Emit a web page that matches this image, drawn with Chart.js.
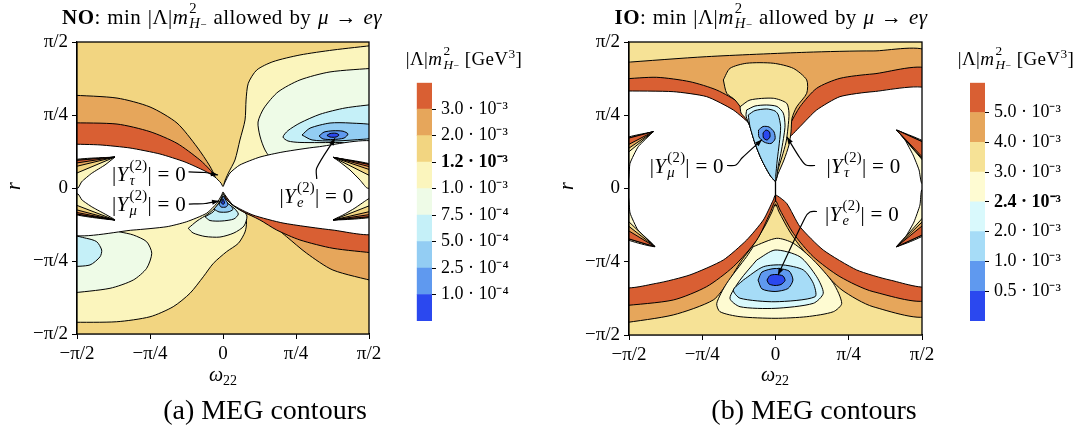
<!DOCTYPE html>
<html lang="en">
<head>
<meta charset="UTF-8">
<title>MEG contours</title>
<script src="https://cdn.jsdelivr.net/npm/chart.js"></script>
<style>
  body { margin: 0; background: #fff; }
  #page { position: relative; width: 1083px; height: 430px; overflow: hidden;
          font-family: "Liberation Serif", "DejaVu Serif", serif; color: #000; }
  canvas { position: absolute; top: 0; }
  .txt { position: absolute; white-space: nowrap; line-height: 1; }
  .ss { display: inline-block; vertical-align: -0.28em; font-size: 0.7em; line-height: 1.02; margin-left: 1px; }
  .ss > span { display: block; }
  .tiny { font-size: 0.75em; }
  .lo { font-size: 0.7em; vertical-align: -0.3em; }
  .ttl { font-size: 21px; letter-spacing: 0.4px; word-spacing: 1px; }
  .cbt { font-size: 19px; letter-spacing: 0.4px; }
  .cap { font-size: 28px; }
</style>
</head>
<body>
<div id="page">
  <canvas id="noPlot" width="400" height="430" style="left:0px"></canvas>
  <canvas id="noBar" width="130" height="430" style="left:405px"></canvas>
  <canvas id="ioPlot" width="400" height="430" style="left:540px"></canvas>
  <canvas id="ioBar" width="128" height="430" style="left:955px"></canvas>

  <div class="txt ttl" style="left:222px;top:16px;transform:translate(-50%,-50%)"><b>NO</b>: min |Λ|<i>m</i><span class="ss"><span>2</span><span><i>H</i><span class="tiny">−</span></span></span> allowed by <i>μ</i> → <i>eγ</i></div>
  <div class="txt ttl" style="left:771px;top:16px;transform:translate(-50%,-50%)"><b>IO</b>: min |Λ|<i>m</i><span class="ss"><span>2</span><span><i>H</i><span class="tiny">−</span></span></span> allowed by <i>μ</i> → <i>eγ</i></div>

  <div class="txt cbt" style="left:464px;top:58px;transform:translate(-50%,-50%)">|Λ|<i>m</i><span class="ss"><span>2</span><span><i>H</i><span class="tiny">−</span></span></span> [GeV<sup style="font-size:0.7em">3</sup>]</div>
  <div class="txt cbt" style="left:1016px;top:58px;transform:translate(-50%,-50%)">|Λ|<i>m</i><span class="ss"><span>2</span><span><i>H</i><span class="tiny">−</span></span></span> [GeV<sup style="font-size:0.7em">3</sup>]</div>

  <div class="txt" style="left:13px;top:186px;font-size:20px;transform:translate(-50%,-50%) rotate(-90deg)"><i>r</i></div>
  <div class="txt" style="left:566px;top:186px;font-size:20px;transform:translate(-50%,-50%) rotate(-90deg)"><i>r</i></div>
  <div class="txt" style="left:223px;top:376px;font-size:20px;transform:translate(-50%,-50%)"><i>ω</i><span class="lo">22</span></div>
  <div class="txt" style="left:775px;top:376px;font-size:20px;transform:translate(-50%,-50%)"><i>ω</i><span class="lo">22</span></div>

  <div class="txt cap" style="left:265px;top:410px;transform:translate(-50%,-50%)">(a) MEG contours</div>
  <div class="txt cap" style="left:814px;top:410px;transform:translate(-50%,-50%)">(b) MEG contours</div>
</div>

<script>
  // all contour points in units of pi/2 : [omega22, r]
  const HALF = Math.PI / 2;

  const tickSteps = [-2, -1, 0, 1, 2];          // multiples of pi/4
  const tickLabels = ['−π/2', '−π/4', '0', 'π/4', 'π/2'];

  // ---------- NO (left panel) ----------
  const noOrangeUL = [[-1.05,0.637],[-0.726,0.616],[-0.5,0.555],[-0.315,0.445],[-0.178,0.281],[-0.09,0.15],[-0.055,0.075],[-0.05,0.0],[-1.05,0.0]];
  const noRedUL = [[-1.05,0.447],[-0.726,0.438],[-0.5,0.386],[-0.315,0.306],[-0.158,0.192],[-0.085,0.12],[-0.055,0.075],[-0.05,0.0],[-1.05,0.0]];
  const noLightYellowUR = [[1.05,0.979],[0.753,0.945],[0.527,0.911],[0.342,0.865],[0.231,0.808],[0.173,0.717],[0.158,0.603],[0.151,0.466],[0.116,0.329],[0.082,0.192],[0.036,0.101],[0.007,0.027],[0.03,0.0],[1.05,0.0]];
  const noPaleGreenUR = [[1.05,0.822],[0.733,0.795],[0.527,0.740],[0.377,0.658],[0.281,0.548],[0.240,0.452],[0.253,0.356],[0.288,0.260],[0.336,0.205],[1.05,0.158]];
  const noCyanUR = [[1.05,0.575],[0.836,0.548],[0.664,0.505],[0.527,0.445],[0.445,0.393],[0.411,0.349],[0.445,0.322],[0.527,0.312],[0.801,0.312],[1.05,0.318]];
  const noLightBlueUR = [[0.541,0.363],[0.596,0.410],[0.733,0.445],[0.870,0.445],[1.05,0.425],[1.05,0.350],[0.904,0.330],[0.753,0.322],[0.610,0.329]];
  const noBlueUR = [[0.658,0.356],[0.692,0.383],[0.753,0.392],[0.822,0.389],[0.856,0.370],[0.829,0.342],[0.753,0.332],[0.685,0.336]];
  const noDarkBlueUR = [[0.712,0.360],[0.733,0.373],[0.774,0.375],[0.795,0.363],[0.774,0.349],[0.733,0.349]];
  const noLightYellowLL = [[-1.05,-0.920],[-0.728,-0.916],[-0.5,-0.882],[-0.341,-0.813],[-0.226,-0.721],[-0.135,-0.608],[-0.066,-0.516],[0.025,-0.436],[0.105,-0.379],[0.151,-0.301],[0.161,-0.233],[0.144,-0.178],[0.089,-0.123],[0.034,-0.075],[0.010,-0.051],[-0.02,-0.014],[-1.05,-0.014]];
  const noPaleGreenLL = [[-1.05,-0.721],[-0.774,-0.687],[-0.614,-0.630],[-0.523,-0.550],[-0.488,-0.447],[-0.523,-0.368],[-0.614,-0.322],[-0.705,-0.301],[-0.842,-0.274],[-1.05,-0.274]];
  const noCyanLL = [[-1.05,-0.539],[-0.911,-0.527],[-0.842,-0.471],[-0.831,-0.425],[-0.865,-0.368],[-0.934,-0.345],[-1.05,-0.332]];
  const noPaleGreenC = [[-0.238,-0.276],[-0.178,-0.226],[-0.103,-0.178],[-0.048,-0.130],[-0.014,-0.075],[0.0,-0.041],[0.021,-0.075],[0.068,-0.116],[0.130,-0.151],[0.164,-0.192],[0.144,-0.260],[0.075,-0.308],[-0.021,-0.336],[-0.123,-0.332],[-0.205,-0.308]];
  const noCyanC = [[-0.123,-0.197],[-0.068,-0.164],[-0.027,-0.110],[0.0,-0.055],[0.027,-0.103],[0.075,-0.137],[0.105,-0.178],[0.075,-0.212],[-0.007,-0.226],[-0.089,-0.223]];
  const noLightBlueC = [[-0.062,-0.144],[-0.027,-0.103],[0.0,-0.062],[0.021,-0.096],[0.055,-0.123],[0.068,-0.147],[0.034,-0.164],[-0.027,-0.164]];
  const noBlueC = [[-0.027,-0.110],[-0.007,-0.075],[0.0,-0.055],[0.014,-0.075],[0.034,-0.110],[0.021,-0.130],[-0.014,-0.130]];
  const noDarkBlueC = [[-0.010,-0.103],[0.0,-0.075],[0.010,-0.103],[0.0,-0.113]];
  const noOrangeLR = [[1.05,-0.642],[0.753,-0.562],[0.573,-0.447],[0.436,-0.334],[0.299,-0.225],[0.162,-0.175],[0.062,-0.115],[0.017,-0.06],[0.034,-0.014],[1.05,-0.014]];
  const noRedLR = [[1.05,-0.447],[0.753,-0.413],[0.527,-0.356],[0.368,-0.288],[0.253,-0.219],[0.116,-0.150],[0.034,-0.088],[0.017,-0.058],[0.034,-0.014],[1.05,-0.014]];
  const noWhite = [[-1.05,0.301],[-0.842,0.295],[-0.637,0.274],[-0.432,0.233],[-0.260,0.178],[-0.123,0.116],[-0.055,0.075],[-0.014,0.034],[0.0,0.010],[0.014,0.041],[0.048,0.103],[0.116,0.158],[0.253,0.212],[0.411,0.247],[0.644,0.281],[1.05,0.308],
                   [1.05,-0.306],[0.753,-0.288],[0.411,-0.240],[0.205,-0.185],[0.068,-0.116],[0.014,-0.048],[0.0,-0.027],[-0.009,-0.048],[-0.043,-0.105],[-0.112,-0.173],[-0.249,-0.231],[-0.384,-0.265],[-0.616,-0.288],[-1.05,-0.310]];
  const noWedgeLU = [[-0.740,0.212],[-0.808,0.158],[-0.899,0.101],[-0.968,0.043],[-0.993,0.0],[-1.05,0.0],[-1.05,0.185]];
  const noWedgeLUYellow = [[-0.740,0.212],[-1.05,0.082],[-1.05,0.185]];
  const noWedgeLUOrange = [[-0.740,0.212],[-1.05,0.137],[-1.05,0.185]];
  const noWedgeLURed = [[-0.740,0.212],[-1.05,0.164],[-1.05,0.185]];
  const noWedgeLL = [[-1.05,-0.041],[-0.993,-0.041],[-0.966,-0.082],[-0.897,-0.130],[-0.822,-0.171],[-0.740,-0.219],[-1.05,-0.171]];
  const noWedgeLLYellow = [[-0.740,-0.219],[-1.05,-0.100],[-1.05,-0.171]];
  const noWedgeLLOrange = [[-0.740,-0.219],[-1.05,-0.137],[-1.05,-0.171]];
  const noWedgeLLRed = [[-0.740,-0.219],[-1.05,-0.158],[-1.05,-0.171]];
  const noWedgeRU = [[0.755,0.210],[0.801,0.178],[0.870,0.123],[0.938,0.055],[0.986,0.0],[1.05,0.0],[1.05,0.151]];
  const noWedgeRUYellow = [[0.755,0.210],[1.05,0.062],[1.05,0.151]];
  const noWedgeRUOrange = [[0.755,0.210],[1.05,0.110],[1.05,0.151]];
  const noWedgeRURed = [[0.755,0.210],[1.05,0.134],[1.05,0.151]];
  const noWedgeRL = [[1.05,-0.041],[0.984,-0.082],[0.904,-0.137],[0.822,-0.185],[0.755,-0.219],[1.05,-0.192]];
  const noWedgeRLYellow = [[0.755,-0.219],[1.05,-0.103],[1.05,-0.192]];
  const noWedgeRLOrange = [[0.755,-0.219],[1.05,-0.151],[1.05,-0.192]];
  const noWedgeRLRed = [[0.755,-0.219],[1.05,-0.175],[1.05,-0.192]];
  const noPointerTau = [[-0.236,0.110],[-0.123,0.106],[-0.034,0.089]];
  const noPointerMu = [[-0.234,-0.110],[-0.123,-0.106],[-0.027,-0.089]];
  const noPointerE = [[0.642,0.062],[0.642,0.137],[0.767,0.340]];

  const noLevels = ['1.0 · 10⁻⁴', '2.5 · 10⁻⁴', '5.0 · 10⁻⁴', '7.5 · 10⁻⁴', '1.0 · 10⁻³', '1.2 · 10⁻³', '2.0 · 10⁻³', '3.0 · 10⁻³'];
  const noBold = '1.2 · 10⁻³';

  // ---------- IO (right panel) ----------
  const ioOrangeTop = [[-1.05,0.859],[-0.470,0.900],[0.213,0.930],[0.666,0.939],[1.05,0.923],[1.05,0.0],[-1.05,0.0]];
  const ioRedTop = [[-1.05,0.747],[-0.811,0.759],[-0.584,0.729],[-0.401,0.672],[-0.242,0.582],[-0.128,0.479],[-0.038,0.377],[0.010,0.311],[0.044,0.358],[0.099,0.440],[0.167,0.558],[0.281,0.684],[0.440,0.752],[0.666,0.782],[1.05,0.804],[1.05,0.0],[-1.05,0.0]];
  const ioOrangeBottom = [[-1.05,-0.920],[-0.698,-0.863],[-0.425,-0.761],[-0.324,-0.638],[-0.229,-0.488],[-0.147,-0.379],[-0.072,-0.256],[-0.024,-0.160],[0.0,-0.106],[0.024,-0.160],[0.099,-0.297],[0.188,-0.420],[0.304,-0.543],[0.454,-0.693],[0.666,-0.807],[1.05,-0.857],[1.05,0.0],[-1.05,0.0]];
  const ioRedBottom = [[-1.05,-0.802],[-0.698,-0.761],[-0.470,-0.670],[-0.288,-0.534],[-0.128,-0.352],[-0.038,-0.169],[0.0,-0.085],[0.031,-0.147],[0.122,-0.306],[0.258,-0.466],[0.440,-0.602],[0.666,-0.704],[1.05,-0.749],[1.05,0.0],[-1.05,0.0]];
  const ioWhite = [[-1.05,0.666],[-0.698,0.661],[-0.470,0.627],[-0.288,0.536],[-0.152,0.422],[-0.038,0.331],[0.010,0.297],[0.076,0.331],[0.167,0.422],[0.281,0.536],[0.440,0.627],[0.666,0.661],[1.05,0.668],
                   [1.05,-0.659],[0.782,-0.625],[0.554,-0.556],[0.326,-0.420],[0.167,-0.261],[0.076,-0.101],[0.0,-0.044],[-0.015,-0.078],[-0.083,-0.215],[-0.197,-0.352],[-0.356,-0.488],[-0.584,-0.590],[-0.811,-0.647],[-1.05,-0.663]];
  const ioWedgeLU = [[-0.834,0.388],[-0.937,0.285],[-0.993,0.172],[-1.005,0.058],[-1.05,0.051],[-1.05,0.331]];
  const ioWedgeLUYellow = [[-0.834,0.388],[-1.05,0.21],[-1.05,0.331]];
  const ioWedgeLUOrange = [[-0.834,0.388],[-1.05,0.242],[-1.05,0.331]];
  const ioWedgeLURed = [[-0.834,0.388],[-1.05,0.276],[-1.05,0.331]];
  const ioWedgeLL = [[-1.05,-0.056],[-1.005,-0.056],[-0.993,-0.167],[-0.939,-0.283],[-0.823,-0.397],[-1.05,-0.329]];
  const ioWedgeLLYellow = [[-0.823,-0.397],[-1.05,-0.18],[-1.05,-0.329]];
  const ioWedgeLLOrange = [[-0.823,-0.397],[-1.05,-0.22],[-1.05,-0.329]];
  const ioWedgeLLRed = [[-0.823,-0.397],[-1.05,-0.26],[-1.05,-0.329]];
  const ioWedgeRU = [[0.827,0.399],[0.884,0.331],[0.939,0.229],[0.980,0.126],[0.998,0.035],[1.05,0.031],[1.05,0.297]];
  const ioWedgeRUYellow = [[0.827,0.399],[1.05,0.14],[1.05,0.297]];
  const ioWedgeRUOrange = [[0.827,0.399],[1.05,0.15],[1.05,0.297]];
  const ioWedgeRURed = [[0.827,0.399],[1.05,0.165],[1.05,0.297]];
  const ioWedgeRL = [[1.05,-0.010],[0.998,-0.010],[0.986,-0.113],[0.945,-0.229],[0.891,-0.324],[0.827,-0.397],[1.05,-0.295]];
  const ioWedgeRLYellow = [[0.827,-0.397],[1.05,-0.15],[1.05,-0.295]];
  const ioWedgeRLOrange = [[0.827,-0.397],[1.05,-0.18],[1.05,-0.295]];
  const ioWedgeRLRed = [[0.827,-0.397],[1.05,-0.215],[1.05,-0.295]];
  const ioDropYellow = [[-0.356,0.741],[-0.311,0.820],[-0.197,0.855],[-0.015,0.855],[0.122,0.820],[0.213,0.741],[0.213,0.650],[0.145,0.558],[0.113,0.481],[0.106,0.386],[0.092,0.297],[0.058,0.195],[0.017,0.099],[-0.001,0.051],[-0.038,0.092],[-0.094,0.195],[-0.140,0.309],[-0.174,0.422],[-0.208,0.509],[-0.276,0.604],[-0.333,0.650]];
  const ioDropLightYellow = [[-0.242,0.558],[-0.174,0.604],[-0.015,0.616],[0.076,0.582],[0.092,0.515],[0.085,0.413],[0.072,0.317],[0.044,0.215],[0.014,0.119],[0.0,0.051],[-0.038,0.092],[-0.094,0.195],[-0.140,0.309],[-0.174,0.422],[-0.205,0.480],[-0.235,0.515]];
  const ioDropCyan = [[-0.197,0.536],[-0.140,0.563],[-0.060,0.570],[0.010,0.560],[0.053,0.515],[0.065,0.433],[0.058,0.365],[0.041,0.263],[0.020,0.160],[0.0,0.051],[-0.038,0.092],[-0.094,0.195],[-0.140,0.309],[-0.174,0.422],[-0.201,0.495]];
  const ioDropLightBlue = [[-0.186,0.502],[-0.140,0.532],[-0.060,0.543],[-0.003,0.529],[0.019,0.502],[0.035,0.422],[0.026,0.309],[0.012,0.195],[0.001,0.081],[-0.003,0.051],[-0.038,0.092],[-0.094,0.195],[-0.140,0.309],[-0.174,0.422]];
  const ioDropBlue = [[-0.116,0.399],[-0.085,0.423],[-0.044,0.420],[-0.010,0.386],[-0.003,0.338],[-0.031,0.307],[-0.078,0.317],[-0.113,0.352]];
  const ioDropDarkBlue = [[-0.085,0.379],[-0.065,0.399],[-0.041,0.386],[-0.038,0.352],[-0.058,0.331],[-0.082,0.345]];
  const ioTriLightYellow = [[-0.152,-0.397],[0.008,-0.340],[0.122,-0.374],[0.258,-0.488],[0.395,-0.647],[0.452,-0.784],[0.395,-0.841],[0.213,-0.875],[-0.003,-0.886],[-0.242,-0.875],[-0.379,-0.841],[-0.401,-0.784],[-0.333,-0.647],[-0.197,-0.465]];
  const ioTriCyan = [[-0.128,-0.488],[-0.003,-0.420],[0.167,-0.466],[0.281,-0.602],[0.326,-0.715],[0.258,-0.784],[-0.003,-0.818],[-0.242,-0.807],[-0.311,-0.749],[-0.242,-0.625]];
  const ioTriLightBlue = [[-0.220,-0.625],[-0.083,-0.534],[0.053,-0.522],[0.190,-0.556],[0.258,-0.647],[0.270,-0.739],[-0.003,-0.773],[-0.242,-0.749],[-0.288,-0.693]];
  const ioTriBlue = [[-0.119,-0.625],[-0.092,-0.570],[-0.003,-0.546],[0.092,-0.563],[0.119,-0.625],[0.085,-0.683],[-0.003,-0.703],[-0.092,-0.686]];
  const ioTriDarkBlue = [[-0.058,-0.625],[-0.038,-0.594],[0.003,-0.587],[0.051,-0.597],[0.065,-0.628],[0.038,-0.655],[-0.003,-0.662],[-0.044,-0.652]];
  const ioCenterLine = [[0.0,0.051],[0.0,-0.09]];
  const ioPointerMu = [[-0.331,0.157],[-0.270,0.160],[-0.229,0.208],[-0.092,0.334]];
  const ioPointerTau = [[0.270,0.157],[0.208,0.160],[0.167,0.208],[0.078,0.352]];
  const ioPointerE = [[0.283,-0.157],[0.235,-0.160],[0.201,-0.201],[0.017,-0.590]];

  const ioLevels = ['0.5 · 10⁻³', '1.0 · 10⁻³', '2.0 · 10⁻³', '2.4 · 10⁻³', '3.0 · 10⁻³', '4.0 · 10⁻³', '5.0 · 10⁻³'];
  const ioBold = '2.4 · 10⁻³';

  // palette
  const RED = '#d95f33', ORANGE = '#e6a65b', BLUE = '#5f99ef', DARK = '#2b48ef';
  const A = { yellow: '#f2d581', ly: '#fbf5bd', green: '#eefbe7', cyan: '#c5f0f8', lb: '#93cdf3' };
  const B = { yellow: '#f6e296', ly: '#fefbd2', cyan: '#d9f9fc', lb: '#a6dcf7' };
  const FONT = 'Liberation Serif';

  const toXY = pts => pts.map(([u, v]) => ({ x: u * HALF, y: v * HALF }));
  const BASE = [[-1.05,-1.05],[1.05,-1.05],[1.05,1.05],[-1.05,1.05]];

  function shape(pts, color, opts) {
    return Object.assign({
      data: toXY(pts.concat([pts[0]])),
      showLine: true, fill: 'shape',
      backgroundColor: color, borderColor: '#000', borderWidth: 1,
      pointRadius: 0, pointHitRadius: 0, tension: 0.25, borderJoinStyle: 'round'
    }, opts || {});
  }
  function pointer(pts) {
    return { data: toXY(pts), showLine: true, fill: false, borderColor: '#000', borderWidth: 1.2,
             pointRadius: 0, pointHitRadius: 0, tension: 0.3, arrow: true };
  }
  function wedge(outline, y, o, r, c) {
    return [shape(outline, c.ly, { tension: 0.15 }), shape(y, c.yellow, { tension: 0 }),
            shape(o, ORANGE, { tension: 0 }), shape(r, RED, { tension: 0 })];
  }

  const noLayers = [
    shape(BASE, A.yellow, { borderWidth: 0, tension: 0 }),
    shape(noOrangeUL, ORANGE), shape(noRedUL, RED),
    shape(noLightYellowUR, A.ly), shape(noPaleGreenUR, A.green), shape(noCyanUR, A.cyan),
    shape(noLightBlueUR, A.lb), shape(noBlueUR, BLUE), shape(noDarkBlueUR, DARK),
    shape(noLightYellowLL, A.ly), shape(noPaleGreenLL, A.green), shape(noCyanLL, A.cyan),
    shape(noPaleGreenC, A.green), shape(noCyanC, A.cyan), shape(noLightBlueC, A.lb),
    shape(noBlueC, BLUE), shape(noDarkBlueC, DARK),
    shape(noOrangeLR, ORANGE), shape(noRedLR, RED),
    shape(noWhite, '#ffffff', { tension: 0.2 }),
    ...wedge(noWedgeLU, noWedgeLUYellow, noWedgeLUOrange, noWedgeLURed, A),
    ...wedge(noWedgeLL, noWedgeLLYellow, noWedgeLLOrange, noWedgeLLRed, A),
    ...wedge(noWedgeRU, noWedgeRUYellow, noWedgeRUOrange, noWedgeRURed, A),
    ...wedge(noWedgeRL, noWedgeRLYellow, noWedgeRLOrange, noWedgeRLRed, A),
    pointer(noPointerTau), pointer(noPointerMu), pointer(noPointerE)
  ];

  const ioLayers = [
    shape(BASE, B.yellow, { borderWidth: 0, tension: 0 }),
    shape(ioOrangeTop, ORANGE), shape(ioRedTop, RED),
    shape(ioOrangeBottom, ORANGE), shape(ioRedBottom, RED),
    shape(ioWhite, '#ffffff', { tension: 0.2 }),
    ...wedge(ioWedgeLU, ioWedgeLUYellow, ioWedgeLUOrange, ioWedgeLURed, B),
    ...wedge(ioWedgeLL, ioWedgeLLYellow, ioWedgeLLOrange, ioWedgeLLRed, B),
    ...wedge(ioWedgeRU, ioWedgeRUYellow, ioWedgeRUOrange, ioWedgeRURed, B),
    ...wedge(ioWedgeRL, ioWedgeRLYellow, ioWedgeRLOrange, ioWedgeRLRed, B),
    shape(ioDropYellow, B.yellow), shape(ioDropLightYellow, B.ly), shape(ioDropCyan, B.cyan),
    shape(ioDropLightBlue, B.lb), shape(ioDropBlue, BLUE), shape(ioDropDarkBlue, DARK),
    shape(ioTriLightYellow, B.ly), shape(ioTriCyan, B.cyan), shape(ioTriLightBlue, B.lb),
    shape(ioTriBlue, BLUE), shape(ioTriDarkBlue, DARK),
    { data: toXY(ioCenterLine), showLine: true, fill: false, borderColor: '#000', borderWidth: 1.3, pointRadius: 0 },
    pointer(ioPointerMu), pointer(ioPointerTau), pointer(ioPointerE)
  ];

  // later layers are painted on top
  [noLayers, ioLayers].forEach(list => list.forEach((d, i) => { d.order = -i; }));

  const frame = {
    id: 'frame',
    afterDatasetsDraw(chart) {
      const { ctx, chartArea: a } = chart;
      ctx.save();
      ctx.strokeStyle = '#000';
      ctx.lineWidth = 1.3;
      ctx.strokeRect(a.left, a.top, a.right - a.left, a.bottom - a.top);
      ctx.restore();
    }
  };

  const arrowHeads = {
    id: 'arrowHeads',
    afterDatasetsDraw(chart) {
      const ctx = chart.ctx;
      chart.data.datasets.forEach((ds, i) => {
        if (!ds.arrow) return;
        const pts = chart.getDatasetMeta(i).data;
        const p = pts[pts.length - 2], q = pts[pts.length - 1];
        const ang = Math.atan2(q.y - p.y, q.x - p.x);
        ctx.save();
        ctx.translate(q.x, q.y);
        ctx.rotate(ang);
        ctx.fillStyle = '#000';
        ctx.beginPath();
        ctx.moveTo(0, 0);
        ctx.lineTo(-7, -2.6);
        ctx.lineTo(-7, 2.6);
        ctx.closePath();
        ctx.fill();
        ctx.restore();
      });
    }
  };

  function contour(id, layers, pad, yW, xH) {
    const axis = (fit) => ({
      type: 'linear', min: -HALF, max: HALF,
      afterFit: fit,
      afterBuildTicks: s => { s.ticks = tickSteps.map(k => ({ value: k * Math.PI / 4 })); },
      ticks: { callback: (v, i) => tickLabels[i], color: '#000', padding: 4, maxRotation: 0, autoSkip: false,
               font: { family: FONT, size: 19 } },
      grid: { drawOnChartArea: false, tickLength: 5, color: '#000', lineWidth: 1 },
      border: { color: '#000', width: 1.2 }
    });
    return new Chart(document.getElementById(id), {
      type: 'scatter',
      data: { datasets: layers },
      options: {
        responsive: false, animation: false, events: [],
        layout: { padding: pad },
        plugins: { legend: { display: false }, tooltip: { enabled: false } },
        scales: {
          x: axis(s => { s.height = xH; }),
          y: axis(s => { s.width = yW; })
        }
      },
      plugins: [frame, arrowHeads]
    });
  }

  function colorbar(id, colors, labels, bold, pad, yW) {
    return new Chart(document.getElementById(id), {
      type: 'bar',
      data: {
        labels: [''],
        datasets: colors.map(c => ({ data: [1], backgroundColor: c, borderWidth: 0, barPercentage: 1, categoryPercentage: 1 }))
      },
      options: {
        responsive: false, animation: false, events: [],
        layout: { padding: pad },
        plugins: { legend: { display: false }, tooltip: { enabled: false } },
        scales: {
          x: { display: false, stacked: true },
          y: {
            stacked: true, position: 'right', min: 0, max: colors.length,
            afterFit: s => { s.width = yW; },
            afterBuildTicks: s => { s.ticks = labels.map((_, i) => ({ value: i + 1 })); },
            ticks: {
              callback: (v, i) => labels[i], color: '#000', padding: 5,
              font: c => ({ family: FONT, size: 18, weight: labels[c.index] === bold ? 'bold' : 'normal' })
            },
            grid: { drawOnChartArea: false, tickLength: 4, color: '#000' },
            border: { display: false }
          }
        }
      }
    });
  }

  const noChart = contour('noPlot', noLayers, { left: 0, top: 42, right: 31, bottom: 0 }, 77, 96);
  const ioChart = contour('ioPlot', ioLayers, { left: 0, top: 42, right: 18, bottom: 0 }, 89, 95);

  colorbar('noBar', [DARK, BLUE, A.lb, A.cyan, A.green, A.ly, A.yellow, ORANGE, RED], noLevels, noBold,
           { left: 11.7, top: 82.7, right: 0, bottom: 109 }, 103);
  colorbar('ioBar', [DARK, BLUE, B.lb, B.cyan, B.ly, B.yellow, ORANGE, RED], ioLevels, ioBold,
           { left: 15, top: 82.7, right: 0, bottom: 109 }, 98);

  // annotation labels, anchored in data units (pi/2)
  const yZero = s => `|<i>Y</i><span class="ss"><span>(2)</span><span><i>${s}</i></span></span>| = 0`;
  const noNotes = [
    { html: yZero('τ'), at: [-0.253, 0.103], align: 'right' },
    { html: yZero('μ'), at: [-0.253, -0.103], align: 'right' },
    { html: yZero('e'), at: [0.641, -0.048], align: 'center' }
  ];
  const ioNotes = [
    { html: yZero('μ'), at: [-0.352, 0.160], align: 'right' },
    { html: yZero('τ'), at: [0.348, 0.160], align: 'left' },
    { html: yZero('e'), at: [0.338, -0.167], align: 'left' }
  ];

  function placeNotes(chart, left, notes) {
    const page = document.getElementById('page');
    notes.forEach(n => {
      const d = document.createElement('div');
      d.className = 'txt';
      d.style.fontSize = '21px';
      d.style.letterSpacing = '0.3px';
      d.innerHTML = n.html;
      const px = chart.scales.x.getPixelForValue(n.at[0] * HALF) + left;
      const py = chart.scales.y.getPixelForValue(n.at[1] * HALF);
      d.style.left = px + 'px';
      d.style.top = py + 'px';
      const tx = n.align === 'right' ? '-100%' : n.align === 'center' ? '-50%' : '0';
      d.style.transform = `translate(${tx},-50%)`;
      page.appendChild(d);
    });
  }
  placeNotes(noChart, 0, noNotes);
  placeNotes(ioChart, 540, ioNotes);
</script>
</body>
</html>
